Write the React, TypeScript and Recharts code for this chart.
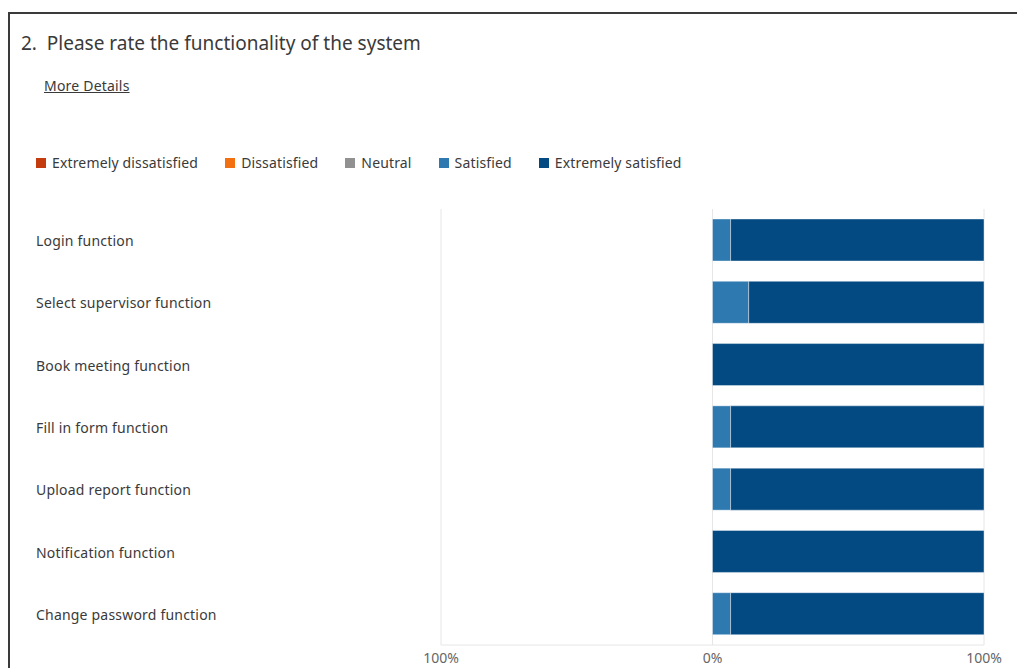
import React from 'react';
import { BarChart, Bar, XAxis, YAxis, CartesianGrid } from 'recharts';

// responses per item, 15 respondents in total
const items = [
  'Login function',
  'Select supervisor function',
  'Book meeting function',
  'Fill in form function',
  'Upload report function',
  'Notification function',
  'Change password function',
];
const extremelyDissatisfied = [0, 0, 0, 0, 0, 0, 0];
const dissatisfied = [0, 0, 0, 0, 0, 0, 0];
const neutral = [0, 0, 0, 0, 0, 0, 0];
const satisfied = [1, 2, 0, 1, 1, 0, 1];
const extremelySatisfied = [14, 13, 15, 14, 14, 15, 14];
const axisTicks = [-100, 0, 100];

const series = [
  { key: 'extremelyDissatisfied', name: 'Extremely dissatisfied', color: '#C43B0E' },
  { key: 'dissatisfied', name: 'Dissatisfied', color: '#F2700F' },
  { key: 'neutral', name: 'Neutral', color: '#919191' },
  { key: 'satisfied', name: 'Satisfied', color: '#2E79AF' },
  { key: 'extremelySatisfied', name: 'Extremely satisfied', color: '#034A82' },
];

const FONT = '"Segoe UI", "Noto Sans", sans-serif';

const data = items.map((name, i) => {
  const total =
    extremelyDissatisfied[i] + dissatisfied[i] + neutral[i] + satisfied[i] + extremelySatisfied[i];
  const pct = (v: number) => (v / total) * 100;
  return {
    name,
    // negative side: closest to zero first
    neutral: -pct(neutral[i]),
    dissatisfied: -pct(dissatisfied[i]),
    extremelyDissatisfied: -pct(extremelyDissatisfied[i]),
    satisfied: pct(satisfied[i]),
    extremelySatisfied: pct(extremelySatisfied[i]),
  };
});

const stackOrder = ['neutral', 'dissatisfied', 'extremelyDissatisfied', 'satisfied', 'extremelySatisfied'];

const ItemTick = (props: any) => {
  const { y, payload } = props;
  return (
    <text x={36} y={y} dy={6} textAnchor="start" fill="#3a3a3a" fontSize={14} letterSpacing={0.2} fontFamily={FONT}>
      {payload.value}
    </text>
  );
};

const App: React.FC = () => {
  return (
    <div style={{ position: 'relative', width: 1017, height: 668, background: '#fff', fontFamily: FONT, overflow: 'hidden' }}>
      <style>{`body{margin:0}`}</style>
      <div
        style={{
          position: 'absolute',
          left: 8,
          top: 12,
          right: -4,
          bottom: -4,
          borderTop: '2px solid #3a3a3a',
          borderLeft: '2px solid #3a3a3a',
        }}
      />
      <div style={{ position: 'absolute', left: 21, top: 30, fontSize: 19, color: '#3a3a3a', whiteSpace: 'pre' }}>
        {'2.  Please rate the functionality of the system'}
      </div>
      <div style={{ position: 'absolute', left: 44, top: 76, fontSize: 14, color: '#3a3a3a', textDecoration: 'underline', letterSpacing: 0.2 }}>
        More Details
      </div>
      <div style={{ position: 'absolute', left: 36, top: 153, display: 'flex', gap: 27, fontSize: 14, color: '#3a3a3a', letterSpacing: 0.15 }}>
        {series.map((s) => (
          <div key={s.key} style={{ display: 'flex', alignItems: 'center', gap: 6 }}>
            <div style={{ width: 10, height: 10, background: s.color }} />
            <span>{s.name}</span>
          </div>
        ))}
      </div>
      <div style={{ position: 'absolute', left: 0, top: 0 }}>
        <BarChart
          width={1017}
          height={668}
          data={data}
          layout="vertical"
          stackOffset="sign"
          margin={{ top: 209, right: 33, bottom: 3, left: 0 }}
        >
          <CartesianGrid horizontal={false} stroke="#e6e6e6" />
          <XAxis
            type="number"
            domain={[-100, 100]}
            ticks={axisTicks}
            tickFormatter={(v: number) => `${Math.abs(v)}%`}
            tickLine={false}
            axisLine={{ stroke: '#e6e6e6' }}
            height={20}
            tick={{ fill: '#666', fontSize: 14, fontFamily: FONT }}
            tickMargin={2}
          />
          <YAxis type="category" dataKey="name" width={441} axisLine={false} tickLine={false} tick={<ItemTick />} />
          {stackOrder.map((k) => {
            const s = series.find((x) => x.key === k)!;
            return (
              <Bar
                key={k}
                dataKey={k}
                name={s.name}
                stackId="a"
                fill={s.color}
                barSize={42}
                stroke="#ffffff"
                strokeOpacity={0.4}
                strokeWidth={1}
                isAnimationActive={false}
              />
            );
          })}
        </BarChart>
      </div>
    </div>
  );
};

export default App;
